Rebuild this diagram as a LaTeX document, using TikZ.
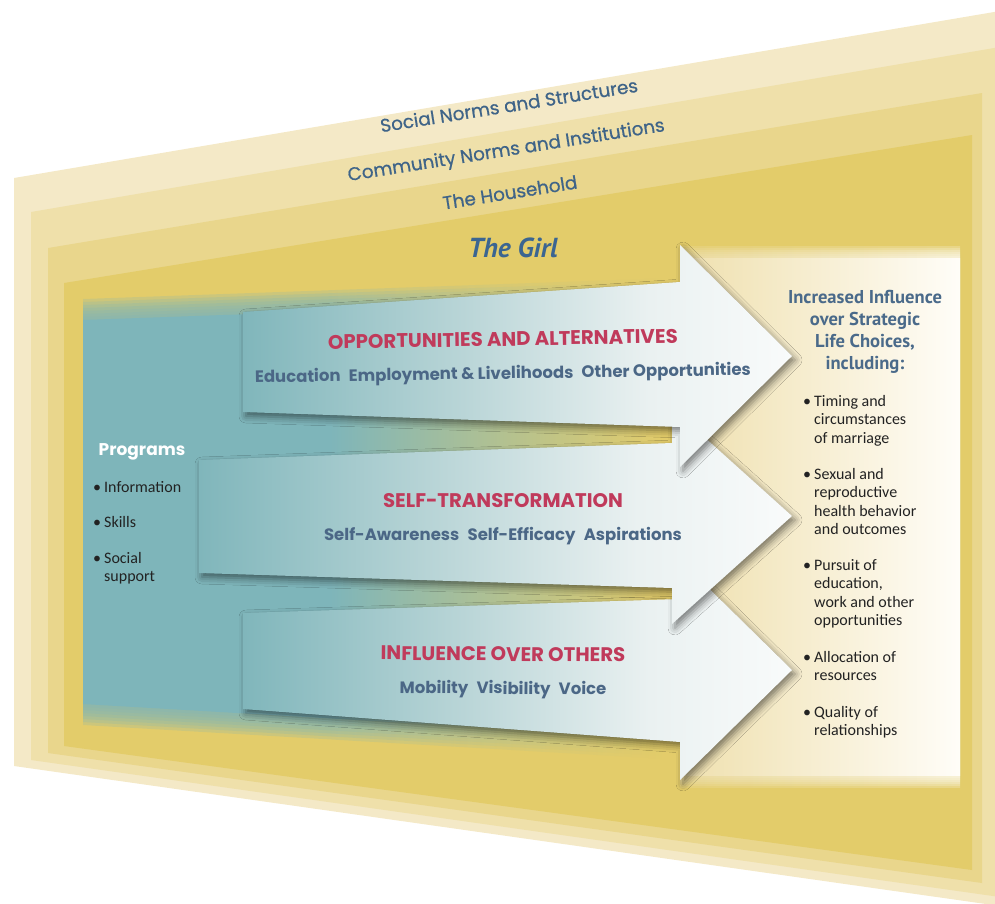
\documentclass[tikz,border=0pt]{standalone}
\usepackage{fontspec}
\setmainfont{PT Sans}
\newfontfamily\gothic{Poppins}
\newfontfamily\gothicmed[FakeBold=0.7]{Poppins}
\newfontfamily\bodyf{Carlito}
\newfontfamily\myriad{PT Sans}
\usetikzlibrary{shadows.blur}

\definecolor{L1}{HTML}{F4E9C7}
\definecolor{L2}{HTML}{EFE0AA}
\definecolor{L3}{HTML}{E9D68C}
\definecolor{L4}{HTML}{E3CC6A}
\definecolor{tealc}{HTML}{7EB5BA}
\definecolor{arrowA}{HTML}{80B6BB}
\definecolor{arrowB}{HTML}{B9D5D7}
\definecolor{arrowC}{HTML}{EAF1F1}
\definecolor{arrowD}{HTML}{F9FBFB}
\definecolor{crim}{HTML}{C03A5B}
\definecolor{slate}{HTML}{4B6786}
\definecolor{layertxt}{HTML}{3F6488}
\definecolor{girlc}{HTML}{3B6591}
\definecolor{inflc}{HTML}{4A6A8A}
\definecolor{creamL}{HTML}{EFE0AE}
\definecolor{creamR}{HTML}{FFFDF8}
\definecolor{bodyc}{HTML}{222222}

\pgfdeclarehorizontalshading{tealfade}{100bp}{color(0bp)=(tealc); color(25bp)=(tealc); color(45bp)=(tealc); color(72bp)=(L4); color(100bp)=(L4)}
\pgfdeclarehorizontalshading{arrowshade}{100bp}{color(0bp)=(arrowA); color(25bp)=(arrowA); color(45bp)=(arrowB); color(62bp)=(arrowC); color(75bp)=(arrowD); color(100bp)=(arrowD)}

\begin{document}
\begin{tikzpicture}[x=1pt,y=-1pt,
  layertext/.style={font=\gothicmed\fontsize{18.4}{20}\selectfont, text=layertxt, inner sep=0pt, anchor=base, rotate=9},
  headtext/.style={font=\gothic\bfseries\fontsize{19.7}{22}\selectfont, text=crim, inner sep=0pt, anchor=base},
  subtext/.style={font=\gothic\bfseries\fontsize{16.5}{20}\selectfont, text=slate, inner sep=0pt, anchor=base},
  bodytext/.style={font=\bodyf\fontsize{16}{18.6}\selectfont, text=bodyc, inner sep=0pt, anchor=base west},
  arrowbox/.style={shading=arrowshade, blur shadow={shadow xshift=3pt, shadow yshift=-4pt, shadow blur radius=7pt, shadow opacity=50}},
]
\useasboundingbox (0,0) rectangle (995,903);
\clip (0,0) rectangle (995,903);

% nested layers
\fill[L1] (14,178) -- (1000,11) -- (1000,906) -- (14,766) -- cycle;
\fill[L2] (31,212) -- (1000,47) -- (1000,897) -- (31,760) -- cycle;
\fill[L3] (48,248) -- (982,93) -- (982,883) -- (48,753) -- cycle;
\fill[L4] (64,283) -- (972,135) -- (972,870) -- (64,746) -- cycle;

% programs panel (teal, soft top/bottom)
\foreach \k in {7,...,1} {
  \shade[shading=tealfade, fill opacity=0.22] (83,{320-3*\k}) -- (700,{298-3*\k}) -- (700,{740+3*\k}) -- (83,{704+3*\k}) -- cycle;
}
\shade[shading=tealfade] (83,320) -- (700,298) -- (700,740) -- (83,704) -- cycle;

% outcome panel (cream, soft top/bottom)
\foreach \k in {6,...,1} {
  \shade[left color=creamL, right color=creamR, fill opacity=0.22] (680,{258-2*\k}) rectangle (960,{775+2*\k});
}
\shade[left color=creamL, right color=creamR] (680,258) rectangle (960,775);

% arrows (bottom first)
\shade[arrowbox] (243,613) -- (680,599) -- (680,560) -- (792,670) -- (680,780) -- (680,742) -- (243,709) -- cycle;
\shade[arrowbox] (199,460) -- (672,443) -- (672,408) -- (792,516) -- (672,624) -- (672,588) -- (199,573) -- cycle;
\shade[arrowbox] (243,312) -- (680,282) -- (680,245) -- (792,356) -- (680,467) -- (680,427) -- (243,412) -- cycle;

% layer labels
\node[layertext] (social) at (510,112) {Social Norms and Structures};
\node[layertext] (community) at (507,156) {Community Norms and Institutions};
\node[layertext] (household) at (511,199) {The Household};
\node[font=\myriad\bfseries\itshape\fontsize{27.5}{30}\selectfont, text=girlc, inner sep=0pt, anchor=base] (girl) at (513,257) {The Girl};

% arrow texts
\node[headtext, rotate=1] (h1) at (503,346) {OPPORTUNITIES AND ALTERNATIVES};
\node[subtext, rotate=0.9] (s1) at (503,379) {Education\hspace{0.5em}Employment \& Livelihoods\hspace{0.5em}Other Opportunities};
\node[headtext] (h2) at (503,507) {SELF-TRANSFORMATION};
\node[subtext] (s2) at (503,540) {Self-Awareness\hspace{0.5em}Self-Efficacy\hspace{0.5em}Aspirations};
\node[headtext, rotate=-0.5] (h3) at (503,661) {INFLUENCE OVER OTHERS};
\node[subtext, rotate=-0.5] (s3) at (503,694) {Mobility\hspace{0.5em}Visibility\hspace{0.5em}Voice};

% programs
\node[font=\gothic\bfseries\fontsize{17}{20}\selectfont, text=white, inner sep=0pt, anchor=base] (prog) at (142,455) {Programs};
\node[bodytext] (p1) at (104,492) {\llap{•\hspace{3pt}}Information};
\node[bodytext] (p2) at (104,527) {\llap{•\hspace{3pt}}Skills};
\node[bodytext] (p3) at (104,563) {\vtop{\baselineskip=18.6pt\hbox{\llap{•\hspace{3pt}}Social}\hbox{support}}};

% outcomes
\node[font=\myriad\bfseries\fontsize{18.6}{22}\selectfont, text=inflc, inner sep=0pt, anchor=base] (infl) at (865,303)
  {\vtop{\baselineskip=22.2pt\halign{\hfil#\hfil\cr Increased Influence\cr over Strategic\cr Life Choices,\cr including:\cr}}};
\node[bodytext] (o1) at (814,406) {\vtop{\baselineskip=18.6pt\hbox{\llap{•\hspace{3pt}}Timing and}\hbox{circumstances}\hbox{of marriage}}};
\node[bodytext] (o2) at (814,479) {\vtop{\baselineskip=18.6pt\hbox{\llap{•\hspace{3pt}}Sexual and}\hbox{reproductive}\hbox{health behavior}\hbox{and outcomes}}};
\node[bodytext] (o3) at (814,570) {\vtop{\baselineskip=18.6pt\hbox{\llap{•\hspace{3pt}}Pursuit of}\hbox{education,}\hbox{work and other}\hbox{opportunities}}};
\node[bodytext] (o4) at (814,662) {\vtop{\baselineskip=18.6pt\hbox{\llap{•\hspace{3pt}}Allocation of}\hbox{resources}}};
\node[bodytext] (o5) at (814,717) {\vtop{\baselineskip=18.6pt\hbox{\llap{•\hspace{3pt}}Quality of}\hbox{relationships}}};
\end{tikzpicture}
\end{document}
